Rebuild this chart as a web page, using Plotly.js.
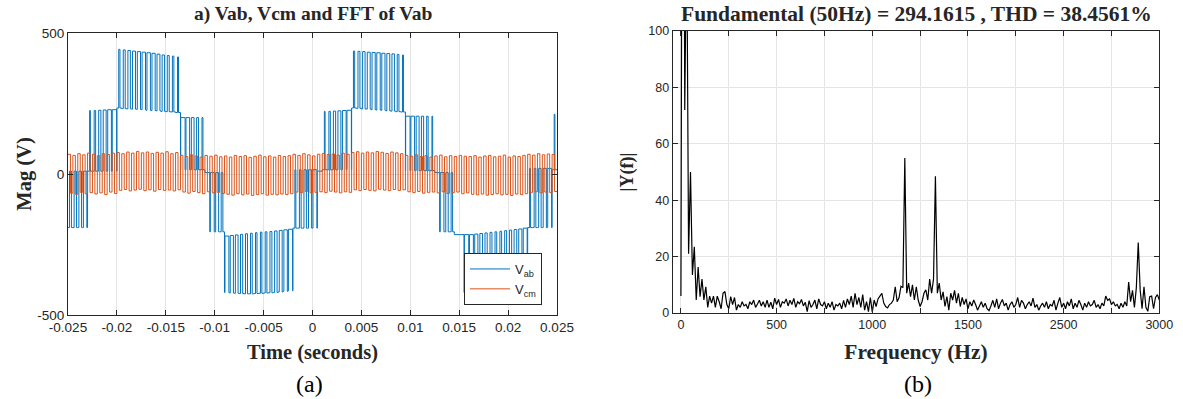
<!DOCTYPE html>
<html><head><meta charset="utf-8">
<script src="https://cdn.plot.ly/plotly-3.0.1.min.js"></script>
<style>html,body{margin:0;padding:0;background:#fff}</style>
</head><body><div id="chart" style="width:1183px;height:399px"></div>
<script>
// ---------- (a) time domain: per 0.5 ms carrier period, levels ----------
const tStart = -0.025, tEnd = 0.025, carrierPeriod = 0.0005;
const vab_lo = [-190,-190,-190,-190, 10,10,10,10,10,10,
  234,232,231,230,229,228,226,225,224,222,221,220,218,
  15,15,15,15,15, 5, -205,-205,-205,
  -420,-422,-423,-424,-425,-425,-424,-423,-422,-421,-420,-418,-416,-414,
  -192,-192,-192,-192,-192, 10, 15,15,15,15,15,15,
  234,233,231,230,228,227,226,224,223,221,220,
  12,12,12,12,12,12, 5, -205,-205,-205, -420,-420,-420,
  -420,-421,-422,-423,-424,-424,-423,-422,-421,-420,-419,-418,
  -190,-190,-190,-190,-190, 15];
const vab_hi = [10,10,10,10, 225,225,226,227,228,228,
  442,440,438,436,434,432,430,428,425,422,420,418,415,
  200,200,200,200,200, 5, 5,5,5,
  -220,-218,-216,-214,-212,-210,-208,-206,-205,-204,-202,-200,-198,-196,
  15,15,15,15,15, 10, 222,222,223,224,225,226,
  436,435,434,432,431,430,428,427,426,424,422,
  205,205,205,205,205,205, 5, 5,5,5, -215,-215,-215,
  -215,-213,-211,-209,-207,-205,-203,-201,-199,-197,-195,-192,
  20,20,20,20,20, 212];
const vab_duty = [0.4,0.5,0.55,0.7, 0.15,0.3,0.45,0.6,0.75,0.9,
  0.25,0.4,0.5,0.6,0.65,0.7,0.7,0.65,0.6,0.5,0.4,0.3,0.2,
  0.9,0.75,0.55,0.4,0.2, 0, 0.8,0.6,0.35,
  0.8,0.65,0.55,0.45,0.4,0.35,0.3,0.3,0.35,0.4,0.5,0.6,0.7,0.85,
  0.2,0.35,0.5,0.65,0.8, 0, 0.15,0.3,0.45,0.6,0.75,0.9,
  0.25,0.4,0.5,0.6,0.65,0.7,0.65,0.6,0.5,0.35,0.2,
  0.9,0.75,0.6,0.45,0.3,0.15, 0, 0.75,0.5,0.3, 1,1,0.9,
  0.8,0.65,0.55,0.45,0.4,0.35,0.35,0.4,0.45,0.55,0.65,0.8,
  0.2,0.35,0.5,0.65,0.8, 0.15];
const vcm_hi = [70,66,72,68,74,70,65,72,69,74,
  76,72,78,74,80,75,78,73,77,74,79,72,76,
  66,62,68,64,60,66,63,67,61,
  64,60,66,62,65,59,63,67,61,64,60,66,62,65,
  70,66,72,68,64,70,73,69,71,67,74,70,
  76,79,74,78,75,80,77,73,78,75,72,
  66,63,68,62,65,60,64,67,61,65,62,66,63,
  62,65,60,64,66,61,63,67,60,64,62,66,
  70,67,72,68,71,69];
const vcm_lo = [-68,-72,-65,-70,-66,-71,-67,-73,-64,-69,
  -58,-55,-60,-57,-54,-59,-56,-61,-55,-58,-57,-60,-56,
  -64,-68,-62,-66,-70,-63,-67,-65,-69,
  -72,-75,-70,-74,-71,-76,-73,-70,-75,-72,-74,-71,-73,-70,
  -64,-66,-62,-67,-65,-63,-66,-61,-64,-67,-63,-65,
  -56,-59,-55,-58,-60,-54,-57,-59,-55,-58,-56,
  -63,-66,-62,-68,-65,-64,-67,-63,-69,-66,-64,-70,-67,
  -72,-74,-71,-75,-73,-70,-74,-72,-76,-71,-73,-70,
  -65,-63,-67,-64,-66,-62];
const timeTickVals = [-0.025,-0.02,-0.015,-0.01,-0.005,0,0.005,0.01,0.015,0.02,0.025];
const timeTickText = ['-0.025','-0.02','-0.015','-0.01','-0.005','0','0.005','0.01','0.015','0.02','0.025'];
const magTickVals = [-500,0,500];
const magTickText = ['-500','0','500'];

// ---------- (b) spectrum: magnitude per bin (bin step along the axis) ----------
const fftStep = 10;
const fft_mag = [
  6,294,72,140,21,50,13.5,23.5,4.6,16.3,5.8,12,4.6,9.3,2,6,3.5,6,2,6,4,1.5,7,7.6,3,
  1.5,5.8,3,5.5,1,3,2,4,2.5,3,1.5,4,3,4.6,2,3.2,4.5,2.5,4,2,4.6,2,3.8,1.5,5.3,
  3,4.8,2,4,3.5,5,2.5,4.5,3,5.2,2,4,3.3,4.8,2.5,3.8,0.5,4.4,2,3,4.6,1.5,5,3,2.5,
  4,1.5,3.5,2,4,1,3,2.5,3.5,1.5,4.5,2,5,3,6,2,7,3,5.5,2,6.5,1,4,0.5,5.5,
  0.3,4.6,2.3,5,6,7,3.5,2.3,1.8,3,3.5,4.6,9.3,4,5.5,9.5,9,55,7,10.6,5.8,10,4.6,9.3,4.6,
  2.3,4,7,8.2,4.6,12,7,12,48.5,7,10.6,4.6,7.5,2.3,5.8,1,7,4.6,8,3.5,7,2.3,5.5,3,5,
  1.5,4,2.5,4.6,3,1,2.5,4,2,3.5,1.5,0.8,2.5,4.5,2,5,1.5,3.5,4.8,2.5,3.5,1,3,4,2,
  3,5.5,2,4.5,3.5,1.5,3,4,2.5,5.3,2,3,1,2.5,3.5,2,4,1.5,3,2.5,4.5,1,3.5,5.5,2,
  3.5,1.5,4,2.5,5,1.5,3.5,2,4.5,3,1,3.5,2,4,2.5,3,4.5,2,3,1.5,3.5,2.5,6,4.5,5,
  3,4,2.5,3,1.5,3.5,2,4,2.5,11,4,8,2,9,25,8.2,1.5,9.3,2,0.6,5.8,6,1.5,5.5,6.5,4.6];
const freqTickVals = [0,500,1000,1500,2000,2500];
const freqTickText = ['0','500','1000','1500','2500','3000'];
const freqMinorVals = [250,750,1250,1750,2250];
const fftTickVals = [0,20,40,60,80,100];

// ---------- build step waveforms ----------
function buildVab(){
  const x=[], y=[];
  for(let k=0;k<vab_lo.length;k++){
    const t0 = tStart + k*carrierPeriod, d = vab_duty[k];
    if(d<=0){ x.push(t0); y.push(vab_lo[k]); }
    else if(d>=1){ x.push(t0); y.push(vab_hi[k]); }
    else {
      x.push(t0, t0+carrierPeriod*(1-d)/2, t0+carrierPeriod*(1+d)/2);
      y.push(vab_lo[k], vab_hi[k], vab_lo[k]);
    }
  }
  x.push(tEnd); y.push(y[y.length-1]);
  return {x,y};
}
function buildVcm(){
  const x=[], y=[];
  for(let k=0;k<vcm_hi.length;k++){
    const t0 = tStart + k*carrierPeriod;
    x.push(t0, t0+carrierPeriod/2); y.push(vcm_hi[k], vcm_lo[k]);
  }
  x.push(tEnd); y.push(y[y.length-1]);
  return {x,y};
}
const vab = buildVab(), vcm = buildVcm();
const fftX = fft_mag.map((_,i)=>i*fftStep);

const W=1183, H=399;
const axCol='#262626', gridCol='#e4e4e4';
const tickFontL = {family:'Liberation Sans, Arial, sans-serif', size:13.5, color:axCol};
const tickFontR = {family:'Liberation Sans, Arial, sans-serif', size:12.5, color:axCol};
const serif = 'Liberation Serif, Times New Roman, serif';
function axBase(){
  return {ticks:'inside', ticklen:5, tickcolor:axCol, tickwidth:1, showline:true, linecolor:axCol, linewidth:1,
    mirror:'ticks', showgrid:true, gridcolor:gridCol, gridwidth:1, zeroline:false, fixedrange:true};
}
const traces = [
  {x:vab.x, y:vab.y, type:'scatter', mode:'lines', name:'V<sub>ab</sub>', line:{color:'#0072BD', width:1, shape:'hv', simplify:false}, xaxis:'x', yaxis:'y'},
  {x:vcm.x, y:vcm.y, type:'scatter', mode:'lines', name:'V<sub>cm</sub>', line:{color:'#D95319', width:1, shape:'hv', simplify:false}, xaxis:'x', yaxis:'y'},
  {x:fftX, y:fft_mag, type:'scatter', mode:'lines', showlegend:false, line:{color:'#000000', width:1.2, simplify:false}, xaxis:'x2', yaxis:'y2'}
];
const layout = {
  width:W, height:H, margin:{l:0,r:0,t:0,b:0},
  paper_bgcolor:'#ffffff', plot_bgcolor:'#ffffff',
  font:{family:'Liberation Sans, Arial, sans-serif', size:13, color:axCol},
  xaxis:Object.assign(axBase(), {domain:[68/W,557/W], range:[tStart,tEnd], anchor:'y',
    tickvals:timeTickVals, ticktext:timeTickText, tickfont:tickFontL,
    title:{text:'Time (seconds)', font:{family:serif, size:20.5, color:axCol, weight:'bold'}, standoff:10}}),
  yaxis:Object.assign(axBase(), {domain:[1-315/H,1-33/H], range:[-500,500], anchor:'x',
    tickvals:magTickVals, ticktext:magTickText, tickfont:tickFontL,
    title:{text:'Mag (V)', font:{family:serif, size:20.5, color:axCol, weight:'bold'}, standoff:0}}),
  xaxis2:Object.assign(axBase(), {domain:[672.7/W,1159.3/W], range:[-43,2500], anchor:'y2',
    tickvals:freqTickVals, ticktext:freqTickText, tickfont:tickFontR,
    minor:{tickvals:freqMinorVals, ticks:'inside', ticklen:5, tickcolor:axCol, showgrid:true, gridcolor:gridCol, gridwidth:1},
    title:{text:'Frequency (Hz)', font:{family:serif, size:21.5, color:axCol, weight:'bold'}, standoff:12}}),
  yaxis2:Object.assign(axBase(), {domain:[1-313/H,1-31/H], range:[0,100], anchor:'x2',
    tickvals:fftTickVals, tickfont:tickFontR,
    title:{text:'|Y(f)|', font:{family:serif, size:18, color:axCol, weight:'bold'}, standoff:10}}),
  legend:{x:542/W, xanchor:'right', y:1-253/H, yanchor:'top', bgcolor:'#ffffff', bordercolor:axCol, borderwidth:1,
    font:{family:'Liberation Sans, Arial, sans-serif', size:13, color:axCol}, itemwidth:40, tracegroupgap:0},
  annotations:[
    {text:'a) Vab, Vcm and FFT of Vab', xref:'paper', yref:'paper', x:312.5/W, y:1-14/H, xanchor:'center', yanchor:'middle', showarrow:false,
      font:{family:serif, size:19.5, color:axCol, weight:'bold'}},
    {text:'Fundamental (50Hz) = 294.1615 , THD = 38.4561%', xref:'paper', yref:'paper', x:916/W, y:1-14/H, xanchor:'center', yanchor:'middle', showarrow:false,
      font:{family:serif, size:21.5, color:axCol, weight:'bold'}},
    {text:'(a)', xref:'paper', yref:'paper', x:310/W, y:1-384/H, xanchor:'center', yanchor:'middle', showarrow:false,
      font:{family:serif, size:24, color:'#000000'}},
    {text:'(b)', xref:'paper', yref:'paper', x:918/W, y:1-384/H, xanchor:'center', yanchor:'middle', showarrow:false,
      font:{family:serif, size:24, color:'#000000'}}
  ]
};
Plotly.newPlot('chart', traces, layout, {displayModeBar:false, staticPlot:true});
</script></body></html>
